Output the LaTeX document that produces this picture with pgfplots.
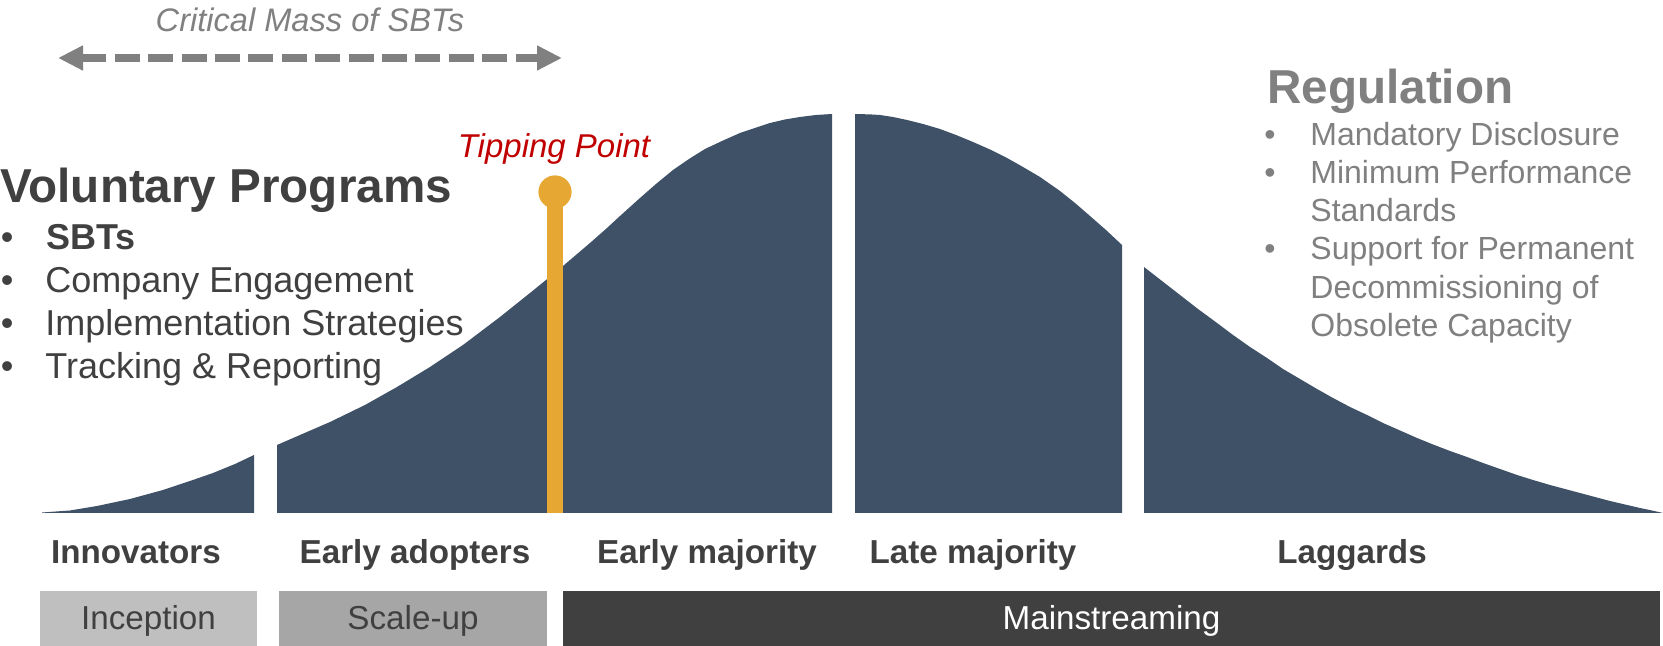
\documentclass[border=0pt]{standalone}
\usepackage{fontspec}
\setmainfont{Liberation Sans}
\usepackage{pgfplots}
\pgfplotsset{compat=1.18}
\usetikzlibrary{arrows.meta}
\definecolor{curve}{HTML}{3F5167}
\definecolor{tipgold}{HTML}{E6A832}
\definecolor{tipred}{HTML}{C00000}
\definecolor{darkgrey}{HTML}{404040}
\definecolor{midgrey}{HTML}{808080}
\definecolor{barlight}{HTML}{BFBFBF}
\definecolor{barmid}{HTML}{A6A6A6}

\begin{document}
\begin{tikzpicture}[
  lbl/.style={inner sep=0pt, anchor=base},
  lw/.style={inner sep=0pt, anchor=base west},
  lft/.style={lw, darkgrey, font=\fontsize{18pt}{21pt}\selectfont},
  rgt/.style={lw, midgrey, font=\fontsize{16pt}{19pt}\selectfont},
  seg/.style={lbl, darkgrey, font=\fontsize{16.6pt}{19pt}\selectfont\bfseries},
]
\begin{axis}[
  width=831.5pt, height=323pt, scale only axis,
  xmin=0, xmax=1663, ymin=-133, ymax=513,
  hide axis, clip=false,
]
% adoption curve, one filled piece per segment (x in px, y = height above baseline)
\addplot[fill=curve, draw=none] coordinates
  {(42,0)(42,0.5)(70,2.5)(97,7)(130,14)(163,23)(190,32)(213,40)(235,49)(254,58)(254,0)} -- cycle;
\addplot[fill=curve, draw=none] coordinates
  {(277,0)(277,68)(300,78)(330,91)(365,108)(397,126)(430,146)(463,168)(500,196)(530,220)(546,233)
   (563,247)(590,270)(607,285)(620,297)(640,315)(656,329)(673,343)(689,354)(705,364)(722,372)
   (740,380)(755,385)(770,390)(785,393.5)(800,396)(816,398)(832,399)(832,0)} -- cycle;
\addplot[fill=curve, draw=none] coordinates
  {(855,0)(855,399)(870,398.6)(880,398)(893,396)(907,393)(923,389)(940,384)(956,378)(973,371)(990,363.5)
   (1007,355)(1023,346)(1040,336)(1060,322)(1075,310)(1090,297)(1106,283)(1122,268)(1122,0)} -- cycle;
\addplot[fill=curve, draw=none] coordinates
  {(1144,0)(1144,246)(1162,232)(1180,218)(1198,204)(1217,190)(1233,178)(1250,166)(1267,155)(1283,144)
   (1300,134)(1317,124)(1333,115)(1350,106)(1367,98)(1383,90)(1400,82.5)(1417,75)(1433,68.5)(1450,62)
   (1467,56)(1483,50)(1500,44)(1517,38)(1533,33)(1550,28)(1565,24)(1580,20)(1595,16)(1610,12)
   (1625,8.5)(1640,5)(1652,2.5)(1663,0)} -- cycle;

% phase bars
\addplot[fill=barlight, draw=none] coordinates {(40,-78)(257,-78)(257,-133)(40,-133)} -- cycle;
\addplot[fill=barmid, draw=none] coordinates {(279,-78)(547,-78)(547,-133)(279,-133)} -- cycle;
\addplot[fill=darkgrey, draw=none] coordinates {(563,-78)(1660,-78)(1660,-133)(563,-133)} -- cycle;

\path (axis cs:0,-133) rectangle (axis cs:1663,513);

% tipping point marker
\draw[tipgold, line width=8pt] (axis cs:555,0) -- (axis cs:555,321);
\fill[tipgold] (axis cs:555,321) circle[radius=8.3pt];
\node[lbl, tipred, font=\fontsize{16.5pt}{19pt}\selectfont\itshape] at (axis cs:554,355) {Tipping Point};

% critical mass arrow
\node[lbl, midgrey, font=\fontsize{16.3pt}{19pt}\selectfont\itshape] at (axis cs:310,481) {Critical Mass of SBTs};
\draw[midgrey, line width=3.8pt, dash pattern=on 12.5pt off 4.2pt,
  {Triangle[length=12.5pt,width=11.7pt]}-{Triangle[length=12.5pt,width=11.7pt]}]
  (axis cs:58,455) -- (axis cs:562,455);

% left block
\node[lw, darkgrey, font=\fontsize{23.8pt}{28pt}\selectfont\bfseries] at (axis cs:0,310) {Voluntary Programs};
\node[lft] at (axis cs:0.5,263) {•};
\node[lft] at (axis cs:0.5,220) {•};
\node[lft] at (axis cs:0.5,177) {•};
\node[lft] at (axis cs:0.5,134) {•};
\node[lft, font=\fontsize{18pt}{21pt}\selectfont\bfseries] at (axis cs:46,263) {SBTs};
\node[lft] at (axis cs:45,220) {Company Engagement};
\node[lft] at (axis cs:45,177) {Implementation Strategies};
\node[lft] at (axis cs:45,134) {Tracking \& Reporting};

% right block
\node[lw, midgrey, font=\fontsize{23.8pt}{28pt}\selectfont\bfseries] at (axis cs:1267,409) {Regulation};
\node[rgt] at (axis cs:1264,367) {•};
\node[rgt] at (axis cs:1264,329) {•};
\node[rgt] at (axis cs:1264,253) {•};
\node[rgt] at (axis cs:1310,367) {Mandatory Disclosure};
\node[rgt] at (axis cs:1310,329) {Minimum Performance};
\node[rgt] at (axis cs:1310,291) {Standards};
\node[rgt] at (axis cs:1310,253) {Support for Permanent};
\node[rgt] at (axis cs:1310,214) {Decommissioning of};
\node[rgt] at (axis cs:1310,176) {Obsolete Capacity};

% segment labels
\node[seg] at (axis cs:136,-51) {Innovators};
\node[seg] at (axis cs:415,-51) {Early adopters};
\node[seg] at (axis cs:707,-51) {Early majority};
\node[seg] at (axis cs:973,-51) {Late majority};
\node[seg] at (axis cs:1352,-51) {Laggards};

% phase labels
\node[lbl, darkgrey, font=\fontsize{16.6pt}{19pt}\selectfont] at (axis cs:148.5,-117) {Inception};
\node[lbl, darkgrey, font=\fontsize{16.6pt}{19pt}\selectfont] at (axis cs:413,-117) {Scale-up};
\node[lbl, white, font=\fontsize{16.6pt}{19pt}\selectfont] at (axis cs:1111.5,-117) {Mainstreaming};
\end{axis}
\end{tikzpicture}
\end{document}
